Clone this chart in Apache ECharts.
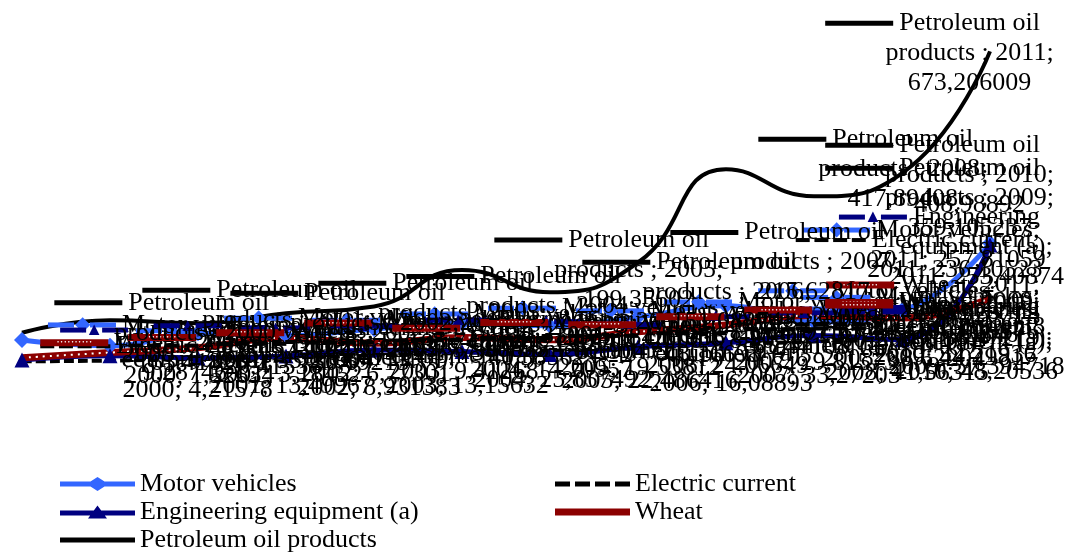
<!DOCTYPE html>
<html>
<head>
<meta charset="utf-8">
<title>Imports</title>
<script src="https://cdn.jsdelivr.net/npm/echarts@6/dist/echarts.min.js"></script>
<style>
  html, body { margin: 0; padding: 0; background: #fff; }
  #main { width: 1070px; height: 553px; }
</style>
</head>
<body>
<div id="main"></div>
<script>
var years = ['2000', '2001', '2002', '2003', '2004', '2005', '2006', '2007', '2008', '2009', '2010', '2011'];
var motorVehicles = [47.83512, 35.21904, 62.41377, 57.90835, 71.62204, 84.11956, 78.30517, 97.55281, 121.86403, 86.47219, 111.93058, 257.81059];
var electricCurrent = [1.52634, 3.18452, 6.77301, 9.41268, 14.20957, 19.53812, 24.06649, 29.81573, 38.62204, 44.29817, 52.71936, 236.10523];
var engineeringEquipment = [4.21578, 13.49967, 8.931383, 13.15632, 25.857492, 22.486416, 16.08893, 33.27203, 41.56315, 57.394718, 48.20536, 253.40874];
var wheat = [9.28746, 20.41538, 30.69215, 52.17734, 40.38562, 52.90471, 48.16693, 65.44108, 80.27385, 100.62917, 95.13846, 138.52071];
var petroleum = [63.41826, 90.57312, 84.20913, 105.74638, 120.33091, 199.35602, 151.08274, 215.62817, 417.89408, 359.105237, 408.98892, 673.206009];

var FONT = 'Liberation Serif';
var ctx = document.createElement('canvas').getContext('2d');
ctx.font = '26px "' + FONT + '"';

// wrap label text like excel does (about 215px wide)
function wrap(text, maxW) {
  var words = text.split(' ');
  var lines = [];
  var cur = '';
  for (var i = 0; i < words.length; i++) {
    var test = cur ? cur + ' ' + words[i] : words[i];
    if (cur && ctx.measureText(test).width > maxW) {
      lines.push(cur);
      cur = words[i];
    } else {
      cur = test;
    }
  }
  if (cur) lines.push(cur);
  return lines;
}

var keys = {
  'Motor vehicles': '{mb|}{md|◆}{mb|}',
  'Engineering equipment (a)': '{eb|}{et|▲}{eb|}',
  'Petroleum oil products': '{pb|}',
  'Electric current': '{cd|}{cg|}{cd|}{cg|}{cd|}{cg|}{cd|}',
  'Wheat': '{wb|• • • • • • • • • •}'
};

function labelFormatter(p) {
  var sep = p.seriesName == 'Petroleum oil products' ? ' ; ' : '; ';
  var text = p.seriesName + sep + p.name + '; ' + String(p.value).replace('.', ',');
  var lines = wrap(text, 216);
  var out = keys[p.seriesName] + '{g|}{t|' + lines[0] + '}';
  for (var i = 1; i < lines.length; i++) {
    out += '\n{sp|}{t|' + lines[i] + '}';
  }
  return out;
}

var rich = {
  t: { fontFamily: FONT, fontSize: 26, lineHeight: 30, color: '#000', align: 'center', verticalAlign: 'middle' },
  g: { width: 6, height: 5, align: 'center', verticalAlign: 'middle' },
  sp: { width: 74, height: 5, align: 'center', verticalAlign: 'middle' },
  pb: { width: 68, height: 5, backgroundColor: '#000', align: 'center', verticalAlign: 'middle' },
  mb: { width: 26, height: 5, backgroundColor: '#3366ff', align: 'center', verticalAlign: 'middle' },
  md: { width: 16, fontSize: 20, color: '#3366ff', align: 'center', verticalAlign: 'middle' },
  eb: { width: 26, height: 5, backgroundColor: '#000080', align: 'center', verticalAlign: 'middle' },
  et: { width: 16, fontSize: 18, color: '#000080', align: 'center', verticalAlign: 'middle' },
  cd: { width: 14, height: 4, backgroundColor: '#000', align: 'center', verticalAlign: 'middle' },
  cg: { width: 4.7, height: 4, align: 'center', verticalAlign: 'middle' },
  wb: { width: 68, height: 7, lineHeight: 7, fontSize: 6, color: '#fff', backgroundColor: '#8b0000', align: 'center', verticalAlign: 'middle' }
};

var label = {
  show: true,
  position: 'right',
  distance: 18,
  formatter: labelFormatter,
  rich: rich
};

// keep labels inside the chart like excel
function clampLabel(params) {
  var r = params.labelRect;
  if (r.x + r.width > 1040) {
    return { x: 1040 - r.width, y: r.y, align: 'left', verticalAlign: 'top' };
  }
}

// legend keys: line with the marker in the middle
var iconMotor = 'path://M0,4.5H30.5L37.5,0L44.5,4.5H75V9.5H44.5L37.5,14L30.5,9.5H0Z';
var iconEngineering = 'path://M0,5H33.85L37.5,0L41.15,5H75V10H44.8L47,13H28L30.2,10H0Z';
var iconSolid = 'path://M0,0H75V5H0Z';
var iconDashed = 'path://M0,0H15V5H0ZM20,0H35V5H20ZM40,0H55V5H40ZM60,0H75V5H60Z';
var iconWheat = 'path://M0,0H75V7H0Z';

var legendText = { fontFamily: FONT, fontSize: 26, lineHeight: 26, color: '#000' };

var myChart = echarts.init(document.getElementById('main'));

var option = {
  animation: false,
  backgroundColor: '#fff',
  textStyle: { fontFamily: FONT },
  grid: { left: 22, right: 80, top: 39, bottom: 191 },
  legend: [
    {
      left: 55, top: 466, height: 90, orient: 'vertical',
      itemWidth: 75, itemHeight: 14, itemGap: 2,
      textStyle: legendText,
      data: [
        { name: 'Motor vehicles', icon: iconMotor },
        { name: 'Engineering equipment (a)', icon: iconEngineering },
        { name: 'Petroleum oil products', icon: iconSolid }
      ]
    },
    {
      left: 550, top: 466, height: 90, orient: 'vertical',
      itemWidth: 75, itemHeight: 14, itemGap: 2,
      textStyle: legendText,
      data: [
        { name: 'Electric current', icon: iconDashed },
        { name: 'Wheat', icon: iconWheat }
      ]
    }
  ],
  xAxis: {
    type: 'category',
    boundaryGap: false,
    data: years,
    show: false
  },
  yAxis: {
    type: 'value',
    min: 0,
    max: 700,
    show: false
  },
  series: [
    {
      name: 'Motor vehicles',
      type: 'line',
      smooth: true,
      data: motorVehicles,
      symbol: 'diamond',
      symbolSize: 16,
      itemStyle: { color: '#3366ff' },
      lineStyle: { color: '#3366ff', width: 5 },
      label: label,
      labelLayout: clampLabel
    },
    {
      name: 'Electric current',
      type: 'line',
      smooth: true,
      data: electricCurrent,
      symbol: 'circle',
      symbolSize: 0.5,
      itemStyle: { color: '#000' },
      lineStyle: { color: '#000', width: 4, type: [10, 4] },
      label: label,
      labelLayout: clampLabel
    },
    {
      name: 'Engineering equipment (a)',
      type: 'line',
      smooth: true,
      data: engineeringEquipment,
      symbol: 'triangle',
      symbolSize: 15,
      itemStyle: { color: '#000080' },
      lineStyle: { color: '#000080', width: 5 },
      label: label,
      labelLayout: clampLabel
    },
    {
      name: 'Wheat',
      type: 'line',
      smooth: true,
      data: wheat,
      symbol: 'circle',
      symbolSize: 0.5,
      itemStyle: { color: '#8b0000' },
      lineStyle: { color: '#8b0000', width: 7 },
      label: label,
      labelLayout: clampLabel
    },
    {
      // white dots on the wheat line
      name: 'wheat-dots',
      type: 'line',
      smooth: true,
      data: wheat,
      symbol: 'none',
      silent: true,
      lineStyle: { color: '#fff', width: 2, type: [2, 5] }
    },
    {
      name: 'Petroleum oil products',
      type: 'line',
      smooth: true,
      data: petroleum,
      symbol: 'circle',
      symbolSize: 0.5,
      itemStyle: { color: '#000' },
      lineStyle: { color: '#000', width: 4 },
      label: label,
      labelLayout: clampLabel
    }
  ]
};

myChart.setOption(option);
</script>
</body>
</html>
